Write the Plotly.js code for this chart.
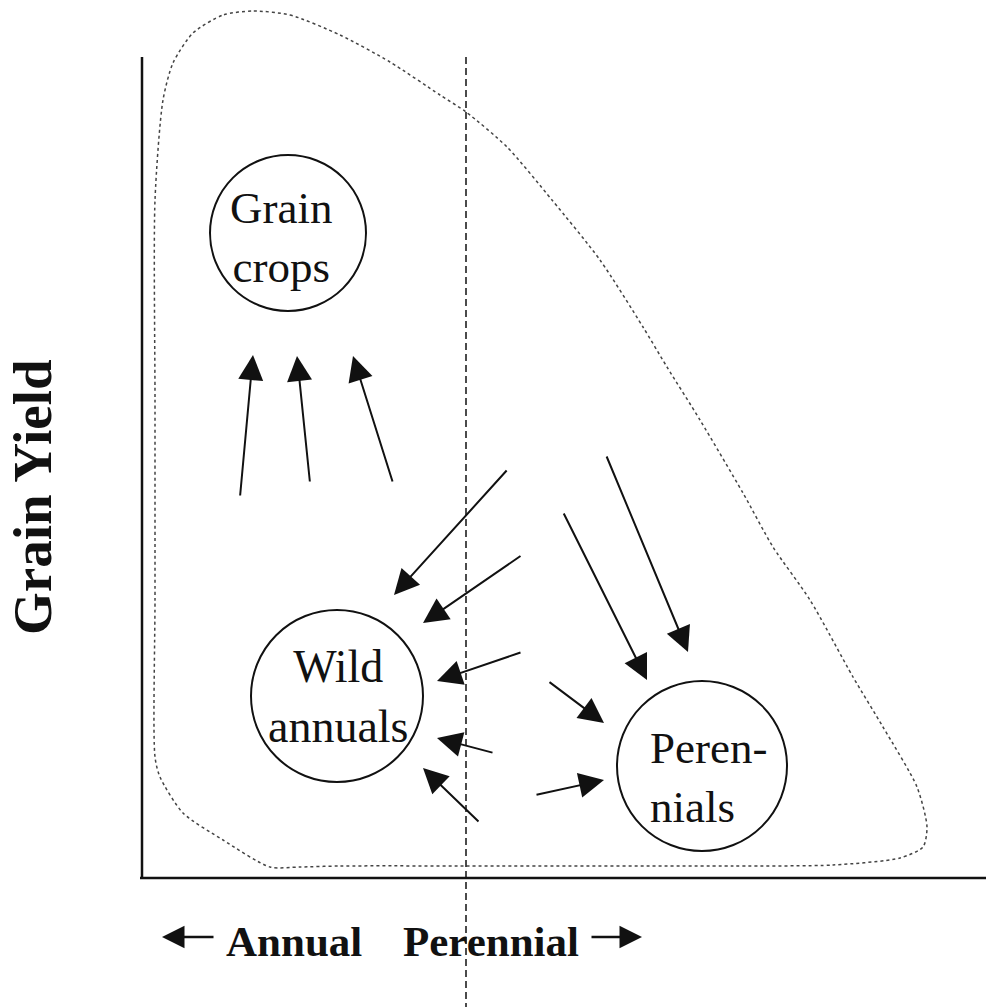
<!DOCTYPE html>
<html>
<head>
<meta charset="utf-8">
<script src="https://cdn.plot.ly/plotly-3.0.1.min.js"></script>
<style>html,body{margin:0;padding:0;background:#fff}#chart{width:986px;height:1007px}</style>
</head>
<body>
<div id="chart"></div>
<script>
// ---- diagram data (pixel-like diagram coordinates, y grows downward) ----
var blobX = [253,290,340,390,440,466,507,552,600,643,667,700,743,773,810,853,883,917,927,923,900,833,733,500,340,300,270,223,183,160,155,155,155,155,163,173,193,223,253];
var blobY = [11,15,35,62,95,112,147,200,260,327,367,420,493,547,600,677,727,787,827,847,858,865,866,866,866,867,867,840,813,777,757,600,400,200,100,63,33,15,11];

var circleNames = ["Grain<br>crops", "Wild<br>annuals", "Peren-<br>nials"];
var circleCX = [288, 337, 702];
var circleCY = [233, 696, 766];
var circleR  = [78, 86, 85];

var arrowTailX = [240, 310, 393, 508, 522, 522, 494, 480, 548, 535, 563, 606];
var arrowTailY = [497, 483, 483, 469, 555, 652, 753, 823, 681, 795, 512, 455];
var arrowTipX  = [253, 297, 353, 394, 423, 437, 437, 423, 604, 604, 647, 688];
var arrowTipY  = [355, 356, 356, 595, 623, 681, 738, 768, 723, 780, 680, 652];

var yLabel = "Grain Yield";
var xLabels = ["Annual", "Perennial"];
var xLabelCX = [294, 491];
var dirArrowTail = [215, 590];
var dirArrowTip  = [162, 642];

// ---- build figure ----
var W = 986, H = 1007;
var traces = [{
  x: blobX, y: blobY, type: "scatter", mode: "lines",
  line: {color: "#444", width: 1.5, dash: "dot", shape: "spline", smoothing: 0.7},
  hoverinfo: "skip", showlegend: false
}];

var shapes = [
  {type: "line", x0: 142, x1: 142, y0: 57, y1: 878, line: {color: "#111", width: 2.5}},
  {type: "line", x0: 140, x1: 986, y0: 878, y1: 878, line: {color: "#111", width: 2.5}},
  {type: "line", x0: 466, x1: 466, y0: 57, y1: 1007, line: {color: "#111", width: 1.5, dash: "7px,4px"}}
];
for (var i = 0; i < circleCX.length; i++) {
  shapes.push({type: "circle", xref: "x", yref: "y",
    x0: circleCX[i] - circleR[i], x1: circleCX[i] + circleR[i],
    y0: circleCY[i] - circleR[i], y1: circleCY[i] + circleR[i],
    line: {color: "#111", width: 2}});
}

var annotations = [];
for (var j = 0; j < arrowTailX.length; j++) {
  annotations.push({x: arrowTipX[j], y: arrowTipY[j], ax: arrowTailX[j], ay: arrowTailY[j],
    xref: "x", yref: "y", axref: "x", ayref: "y", text: "", showarrow: true,
    arrowhead: 2, arrowsize: 2.5, arrowwidth: 2, arrowcolor: "#111", standoff: 0, startstandoff: 0});
}
for (var k = 0; k < dirArrowTail.length; k++) {
  annotations.push({x: dirArrowTip[k], y: 937, ax: dirArrowTail[k], ay: 937,
    xref: "x", yref: "y", axref: "x", ayref: "y", text: "", showarrow: true,
    arrowhead: 2, arrowsize: 1.8, arrowwidth: 2.5, arrowcolor: "#111", standoff: 0, startstandoff: 0});
}
// circle labels
var serif = "Liberation Serif, Times New Roman, serif";
annotations.push({x: 281, y: 237, xref: "x", yref: "y", text: circleNames[0], showarrow: false,
  font: {family: serif, size: 45, color: "#111"}, align: "center"});
annotations.push({x: 338, y: 696, xref: "x", yref: "y", text: circleNames[1], showarrow: false,
  font: {family: serif, size: 46, color: "#111"}, align: "center"});
annotations.push({x: 648, y: 777, xref: "x", yref: "y", text: circleNames[2], showarrow: false,
  xanchor: "left", font: {family: serif, size: 45, color: "#111"}, align: "left"});
// axis labels
annotations.push({x: 32, y: 497, xref: "x", yref: "y", text: "<b>" + yLabel + "</b>", showarrow: false,
  textangle: -90, font: {family: serif, size: 55, color: "#111"}});
for (var m = 0; m < xLabels.length; m++) {
  annotations.push({x: xLabelCX[m], y: 941, xref: "x", yref: "y", text: "<b>" + xLabels[m] + "</b>", showarrow: false,
    font: {family: serif, size: 43, color: "#111"}});
}

var layout = {
  width: W, height: H,
  margin: {l: 0, r: 0, t: 0, b: 0, pad: 0},
  paper_bgcolor: "#fff", plot_bgcolor: "#fff",
  xaxis: {range: [0, W], visible: false, fixedrange: true},
  yaxis: {range: [H, 0], visible: false, fixedrange: true},
  shapes: shapes, annotations: annotations, showlegend: false
};
Plotly.newPlot("chart", traces, layout, {staticPlot: true, displayModeBar: false});
</script>
</body>
</html>
